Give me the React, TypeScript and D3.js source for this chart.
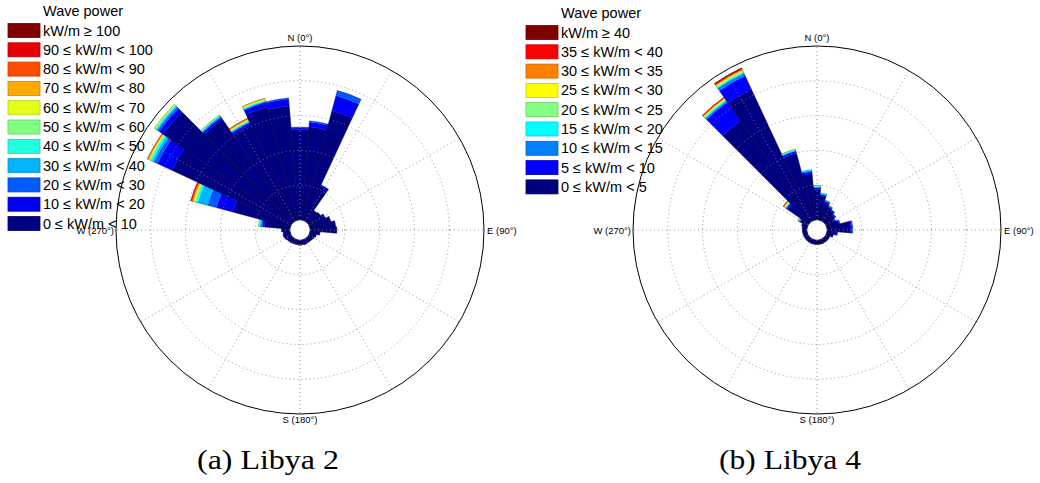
import React from "react";
import * as d3 from "d3";

const W = 1040;
const H = 483;

// sector centres (deg, clockwise from north), 10° bins
const directions = d3.range(0, 360, 10);

// Libya 2 : wave power classes (kW/m), step 10
const libya2Labels = [
  "0 ≤ kW/m < 10",
  "10 ≤ kW/m < 20",
  "20 ≤ kW/m < 30",
  "30 ≤ kW/m < 40",
  "40 ≤ kW/m < 50",
  "50 ≤ kW/m < 60",
  "60 ≤ kW/m < 70",
  "70 ≤ kW/m < 80",
  "80 ≤ kW/m < 90",
  "90 ≤ kW/m < 100",
  "kW/m ≥ 100",
];
const libya2Colors = [
  "#000080", "#0000f2", "#005aff", "#00b4ff", "#20ffe0", "#80ff80",
  "#e6ff1a", "#ffaa00", "#ff4d00", "#e60000", "#800000",
];
// frequency per direction, one value per class (missing = 0)
const libya2Freq = [
  [2.6, 0.05, 0.02], // 0
  [2.69, 0.14, 0.03], // 10
  [3.26, 0.45, 0.15], // 20
  [1.1, 0.04], // 30
  [0.4], // 40
  [0.43], // 50
  [0.52], // 60
  [0.63], // 70
  [0.74], // 80
  [0.77], // 90
  [0.29], // 100
  [0.2], // 110
  [0.17], // 120
  [0.15], // 130
  [0.14], // 140
  [0.14], // 150
  [0.15], // 160
  [0.14], // 170
  [0.15], // 180
  [0.14], // 190
  [0.14], // 200
  [0.15], // 210
  [0.16], // 220
  [0.17], // 230
  [0.2], // 240
  [0.22], // 250
  [0.2], // 260
  [0.25], // 270
  [0.74, 0.06, 0.04, 0.03, 0.02, 0.02], // 280
  [1.71, 0.49, 0.26, 0.29, 0.06, 0.04, 0.03, 0.03, 0.03, 0.02], // 290
  [3.77, 0.46, 0.11, 0.06, 0.06, 0.03, 0.02, 0.02, 0.02], // 300
  [4.51, 0.14, 0.06, 0.04, 0.03, 0.02, 0.02], // 310
  [3.6, 0.06, 0.03, 0.02, 0.02, 0.02], // 320
  [3.06, 0.06, 0.02, 0.02, 0.02, 0.02, 0.02, 0.02, 0.02], // 330
  [3.37, 0.14, 0.02, 0.02, 0.02, 0.02, 0.02, 0.02], // 340
  [3.29, 0.2, 0.03], // 350
];

// Libya 4 : wave power classes (kW/m), step 5
const libya4Labels = [
  "0 ≤ kW/m < 5",
  "5 ≤ kW/m < 10",
  "10 ≤ kW/m < 15",
  "15 ≤ kW/m < 20",
  "20 ≤ kW/m < 25",
  "25 ≤ kW/m < 30",
  "30 ≤ kW/m < 35",
  "35 ≤ kW/m < 40",
  "kW/m ≥ 40",
];
const libya4Colors = [
  "#000080", "#0000ff", "#0080ff", "#00ffff", "#80ff80",
  "#ffff00", "#ff8000", "#ff0000", "#800000",
];
const libya4Freq = [
  [0.88, 0.05, 0.02, 0.02, 0.02], // 0
  [0.7, 0.04, 0.02, 0.02], // 10
  [0.53, 0.04, 0.02, 0.01], // 20
  [0.44, 0.03, 0.02], // 30
  [0.39, 0.03, 0.01], // 40
  [0.33, 0.03, 0.01], // 50
  [0.28, 0.02, 0.01], // 60
  [0.36, 0.03, 0.01], // 70
  [0.68, 0.04, 0.02], // 80
  [0.68, 0.04, 0.02], // 90
  [0.28, 0.02, 0.01], // 100
  [0.19, 0.01], // 110
  [0.13], // 120
  [0.13], // 130
  [0.13], // 140
  [0.13], // 150
  [0.13], // 160
  [0.13], // 170
  [0.13], // 180
  [0.13], // 190
  [0.13], // 200
  [0.13], // 210
  [0.13], // 220
  [0.13], // 230
  [0.13], // 240
  [0.13], // 250
  [0.13], // 260
  [0.14], // 270
  [0.14], // 280
  [0.16, 0.01], // 290
  [0.24, 0.03, 0.02, 0.02, 0.01], // 300
  [0.74, 0.05, 0.02, 0.02, 0.02, 0.02, 0.02, 0.01], // 310
  [3.54, 0.66, 0.05, 0.03, 0.03, 0.02, 0.02, 0.02], // 320
  [4.17, 0.43, 0.09, 0.03, 0.03, 0.03, 0.03, 0.02, 0.02], // 330
  [2.0, 0.06, 0.02, 0.02, 0.02], // 340
  [1.34, 0.06, 0.03, 0.02], // 350
];

const rings = [1, 2, 3, 4];
const rMax = 5;
const spokes = d3.range(0, 360, 30);

const sans = "'Liberation Sans', Arial, Helvetica, sans-serif";

const Rose = ({ cx, cy, freq, colors }) => {
  const r = d3.scaleLinear().domain([0, rMax]).range([10, 184]);
  const arc = d3.arc();
  const rad = (d) => (d * Math.PI) / 180;

  return (
    <g transform={`translate(${cx},${cy})`}>
      {freq.map((row, i) => {
        const a0 = rad(directions[i] - 5);
        const a1 = rad(directions[i] + 5);
        let acc = 0;
        const layers = row.map((v, k) => {
          const s = acc;
          acc += v;
          return { k, s, e: acc };
        });
        return (
          <g key={i}>
            {layers.map((l) => (
              <path
                key={l.k}
                d={arc({ innerRadius: r(l.s), outerRadius: r(l.e), startAngle: a0, endAngle: a1 })}
                fill={colors[l.k]}
                stroke={colors[l.k]}
                strokeWidth={0.3}
              />
            ))}
            <path
              d={arc({ innerRadius: r(0), outerRadius: r(acc), startAngle: a0, endAngle: a1 })}
              fill="none"
              stroke="#000"
              strokeOpacity={0.55}
              strokeWidth={0.5}
            />
          </g>
        );
      })}
      {rings.map((v) => (
        <circle key={v} r={r(v)} fill="none" stroke="#888" strokeWidth={0.9} strokeDasharray="1 3" />
      ))}
      {spokes.map((d) => (
        <line
          key={d}
          x1={r(0) * Math.sin(rad(d))}
          y1={-r(0) * Math.cos(rad(d))}
          x2={r(rMax) * Math.sin(rad(d))}
          y2={-r(rMax) * Math.cos(rad(d))}
          stroke="#888"
          strokeWidth={0.9}
          strokeDasharray="1 3"
        />
      ))}
      <circle r={r(rMax)} fill="none" stroke="#000" strokeWidth={1} />
      <g fontFamily={sans} fontSize={9.5} fill="#000">
        <text x={0} y={-r(rMax) - 5} textAnchor="middle">N (0°)</text>
        <text x={0} y={r(rMax) + 9} textAnchor="middle">S (180°)</text>
        <text x={r(rMax) + 3} y={3.5} textAnchor="start">E (90°)</text>
        <text x={-r(rMax) - 2} y={3.5} textAnchor="end">W (270°)</text>
      </g>
    </g>
  );
};

const Legend = ({ x, y, labels, colors }) => {
  const items = labels.map((l, i) => ({ l, c: colors[i] })).reverse();
  const step = 19.3;
  return (
    <g fontFamily={sans} fontSize={14.5} fill="#000">
      <text x={x + 35} y={y}>Wave power</text>
      {items.map((it, i) => {
        const cyy = y + 14.5 + i * step;
        return (
          <g key={i}>
            <rect
              x={x}
              y={cyy - 7}
              width={32}
              height={14}
              fill={it.c}
              stroke={d3.color(it.c).darker(0.6).formatHex()}
              strokeWidth={0.8}
            />
            <text x={x + 35} y={cyy + 5}>{it.l}</text>
          </g>
        );
      })}
    </g>
  );
};

export default function App() {
  return (
    <svg
      width={W}
      height={H}
      style={{ position: "absolute", left: 0, top: 0, background: "#fff" }}
    >
      <rect width={W} height={H} fill="#fff" />
      <Rose cx={300} cy={230} freq={libya2Freq} colors={libya2Colors} />
      <Rose cx={817} cy={230} freq={libya4Freq} colors={libya4Colors} />
      <Legend x={8} y={16} labels={libya2Labels} colors={libya2Colors} />
      <Legend x={526} y={18} labels={libya4Labels} colors={libya4Colors} />
      <g fontFamily="'Liberation Serif', 'DejaVu Serif', serif" fontSize={27} fill="#000">
        <text x={268} y={469} textAnchor="middle" textLength={142} lengthAdjust="spacingAndGlyphs">
          (a) Libya 2
        </text>
        <text x={790} y={469} textAnchor="middle" textLength={142} lengthAdjust="spacingAndGlyphs">
          (b) Libya 4
        </text>
      </g>
    </svg>
  );
}
